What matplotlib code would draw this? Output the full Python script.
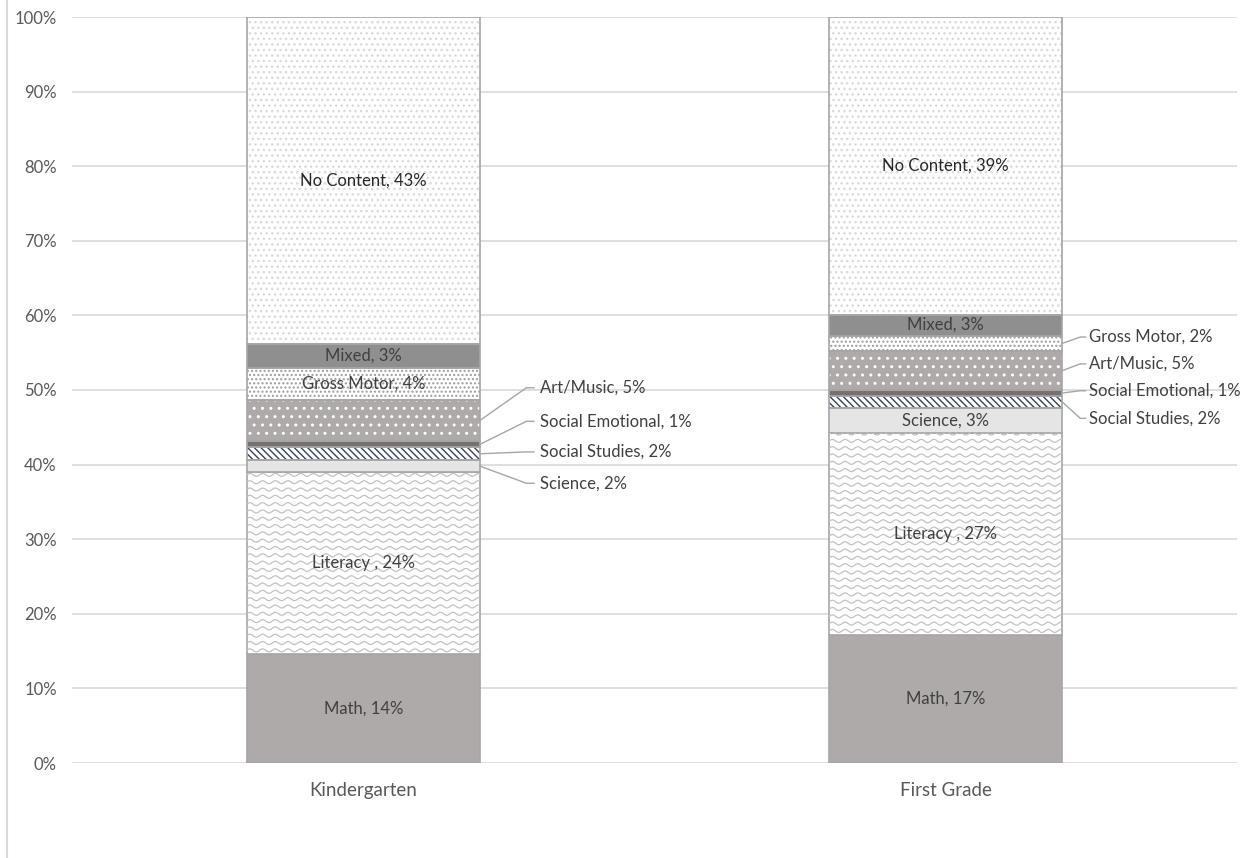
import numpy as np
import matplotlib.pyplot as plt
from matplotlib.ticker import PercentFormatter
from matplotlib.lines import Line2D

plt.rcParams['font.family'] = ['Lato', 'DejaVu Sans']
plt.rcParams['hatch.linewidth'] = 1.0

grades = ['Kindergarten', 'First Grade']
segments = ['Math', 'Literacy ', 'Science', 'Social Studies', 'Social Emotional',
            'Art/Music', 'Gross Motor', 'Mixed', 'No Content']
kinder = [14.6, 24.4, 1.6, 1.7, 0.8, 5.6, 4.3, 3.2, 43.8]
first = [17.2, 27.1, 3.3, 1.6, 0.8, 5.2, 2.1, 2.8, 39.9]
kinder_lbl = ['14%', '24%', '2%', '2%', '1%', '5%', '4%', '3%', '43%']
first_lbl = ['17%', '27%', '3%', '2%', '1%', '5%', '2%', '3%', '39%']

# face, hatch colour, hatch
styles = {
    'Math': ('#aeaaaa', None, None),
    'Literacy ': ('white', None, None),
    'Science': ('#e6e5e5', None, None),
    'Social Studies': ('white', '#34435a', '\\\\\\\\\\'),
    'Social Emotional': ('#767171', None, None),
    'Art/Music': ('#aeaaaa', 'white', '..'),
    'Gross Motor': ('white', '#9c9c9c', '....'),
    'Mixed': ('#8f8f8f', None, None),
    'No Content': ('white', '#dadada', '...'),
}
border = '#a6a6a6'

# labels outside the bar: (segment, label y in %), plus leader line knee / text offsets
outside = {
    0: [('Art/Music', 50.3), ('Social Emotional', 45.8), ('Social Studies', 41.7), ('Science', 37.5)],
    1: [('Gross Motor', 57.1), ('Art/Music', 53.5), ('Social Emotional', 49.9), ('Social Studies', 46.2)],
}
leader = {0: (0.08, 0.093, 0.103), 1: (0.031, 0.04, 0.046)}

fig = plt.figure(figsize=(12.51, 8.58), dpi=100)
ax = fig.add_axes([72 / 1251, 95 / 858, (1237 - 72) / 1251, (763 - 17) / 858])

x = np.arange(len(grades))
width = 0.4
data = np.array([kinder, first])
labels = [kinder_lbl, first_lbl]
bottoms = np.zeros(len(grades))
bars = {}
for j, seg in enumerate(segments):
    face, hcol, hatch = styles[seg]
    vals = data[:, j]
    if hatch:
        ax.bar(x, vals, width, bottom=bottoms, color=face, edgecolor=hcol,
               hatch=hatch, linewidth=0, zorder=2)
    rects = ax.bar(x, vals, width, bottom=bottoms, color=face if not hatch else 'none',
                   edgecolor=border, linewidth=1.2, zorder=3)
    bars[seg] = rects
    bottoms += vals

# wavy texture for literacy
for r in bars['Literacy ']:
    x0, y0, w, h = r.get_x(), r.get_y(), r.get_width(), r.get_height()
    xs = np.linspace(x0, x0 + w, 800)
    for yy in np.arange(y0 + 0.5, y0 + h, 0.98):
        ln, = ax.plot(xs, yy + 0.2 * np.sin((xs - x0) / 0.0218 * 2 * np.pi),
                      color='#c2c2c2', lw=0.9, zorder=3.5)
        ln.set_clip_path(r)

# labels
for i in range(len(grades)):
    out = dict(outside[i])
    knee, end, tx = leader[i]
    for j, seg in enumerate(segments):
        r = bars[seg][i]
        yc = r.get_y() + r.get_height() / 2
        txt = seg + ', ' + labels[i][j]
        if seg in out:
            ly = out[seg]
            xr = i + width / 2
            ax.add_line(Line2D([xr, xr + knee, xr + end], [yc, ly, ly],
                               color='#a6a6a6', lw=1, zorder=4, clip_on=False))
            ax.text(xr + tx, ly, txt, ha='left', va='center', fontsize=12,
                    color='#404040', zorder=5)
        else:
            col = '#404040' if seg in ('Mixed', 'Gross Motor', 'Math', 'Literacy ', 'Science') else '#262626'
            ax.text(i, yc, txt, ha='center', va='center', fontsize=12,
                    color=col, zorder=5)

ax.set_xlim(-0.5, 1.5)
ax.set_ylim(0, 100)
ax.set_yticks(np.arange(0, 101, 10))
ax.yaxis.set_major_formatter(PercentFormatter(decimals=0))
ax.set_xticks(x)
ax.set_xticklabels(grades)
ax.tick_params(axis='both', length=0, colors='#595959')
ax.tick_params(axis='x', labelsize=13.5, pad=14)
ax.tick_params(axis='y', labelsize=12, pad=11)
ax.grid(axis='y', color='#d9d9d9', lw=1.2, zorder=0)
ax.set_axisbelow(True)
for s in ax.spines.values():
    s.set_visible(False)

# chart area border (left edge visible)
fig.add_artist(Line2D([7 / 1251, 7 / 1251], [0, 1], color='#d9d9d9', lw=1.5))

fig.savefig('out.png', dpi=100)
